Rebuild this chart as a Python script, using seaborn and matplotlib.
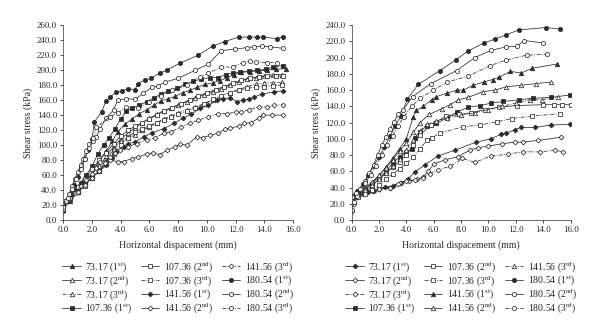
import matplotlib
matplotlib.use("Agg")
import matplotlib.pyplot as plt
import seaborn as sns
from matplotlib.ticker import MultipleLocator, FormatStrFormatter

# ---------------- Panel (a): displacement (mm) / shear stress (kPa) ----------------
a_73_1_x = [0, 0.5, 1.0, 1.5, 2.0, 2.5, 3.0, 3.4, 3.8, 4.3, 4.8, 5.3, 5.8, 6.3, 6.8, 7.3, 7.8, 8.3, 8.8, 9.3, 9.9, 10.4, 10.9, 11.4, 11.9, 12.4, 13.0, 13.6, 14.2, 14.8, 15.5]
a_73_1_y = [15, 25, 38, 50, 62, 80, 92, 105, 118, 128, 135, 142, 147, 153, 159, 162, 165, 170, 173, 177, 181, 183, 186, 190, 194, 197, 198, 199, 200, 201, 202]
a_73_2_x = [0, 0.5, 1.0, 1.5, 2.0, 2.5, 3.0, 3.5, 4.0, 4.5, 5.0, 5.5, 6.0, 6.5, 7.0, 7.5, 8.0, 8.6, 9.2, 9.8, 10.4, 11.0, 11.6, 12.2, 12.8, 13.4, 14.0, 14.6, 15.2]
a_73_2_y = [20, 30, 40, 52, 62, 72, 85, 98, 108, 116, 123, 130, 136, 141, 146, 150, 154, 158, 163, 167, 171, 175, 180, 184, 188, 190, 192, 194, 194]
a_73_3_x = [0, 0.5, 1.0, 1.5, 2.0, 2.5, 3.0, 3.5, 4.0, 4.5, 5.0, 5.5, 6.0, 6.5, 7.0, 7.5, 8.0, 8.6, 9.2, 9.8, 10.4, 11.0, 11.6, 12.2, 12.8, 13.4, 14.0, 14.6, 15.2]
a_73_3_y = [22, 30, 38, 47, 56, 66, 80, 95, 105, 110, 113, 120, 124, 130, 135, 139, 143, 147, 151, 155, 160, 165, 170, 174, 178, 181, 183, 183, 184]
a_107_1_x = [0, 0.4, 0.8, 1.2, 1.6, 2.0, 2.4, 2.8, 3.2, 3.6, 4.0, 4.4, 4.8, 5.3, 5.8, 6.3, 6.8, 7.3, 7.9, 8.5, 9.0, 9.6, 10.2, 10.8, 11.3, 11.8, 12.3, 12.9, 13.5, 14.1, 14.6, 15.3]
a_107_1_y = [20, 30, 40, 50, 60, 72, 88, 100, 110, 122, 135, 145, 150, 153, 158, 163, 168, 172, 176, 181, 185, 188, 190, 190, 194, 196, 197, 199, 200, 201, 204, 206]
a_107_2_x = [0, 0.5, 1.0, 1.5, 2.0, 2.5, 3.0, 3.5, 4.0, 4.5, 5.0, 5.5, 6.0, 6.5, 7.0, 7.6, 8.2, 8.8, 9.4, 10.0, 10.6, 11.2, 11.8, 12.4, 13.0, 13.6, 14.2, 14.8, 15.3]
a_107_2_y = [25, 34, 44, 55, 68, 80, 90, 102, 112, 120, 125, 130, 135, 140, 145, 149, 155, 160, 165, 170, 174, 178, 183, 187, 189, 191, 192, 192, 192]
a_107_3_x = [0, 0.5, 1.0, 1.5, 2.0, 2.5, 3.0, 3.5, 4.0, 4.5, 5.0, 5.5, 6.0, 6.5, 7.0, 7.5, 8.0, 8.6, 9.2, 9.8, 10.4, 11.0, 11.6, 12.2, 12.8, 13.4, 14.0, 14.6, 15.2]
a_107_3_y = [20, 28, 37, 46, 56, 65, 75, 88, 100, 110, 118, 122, 126, 130, 133, 137, 141, 145, 150, 155, 161, 166, 170, 173, 176, 177, 178, 179, 180]
a_141_1_x = [0, 0.5, 1.0, 1.5, 2.0, 2.5, 3.0, 3.4, 3.7, 4.2, 4.5, 5.0, 5.6, 6.15, 7.0, 7.7, 8.35, 8.9, 9.5, 10.1, 10.7, 11.1, 11.6, 12.1, 12.5, 12.9, 13.3, 13.8, 14.7, 15.3]
a_141_1_y = [20, 28, 38, 48, 58, 65, 73, 83, 91, 98, 102, 104, 111, 116, 122, 129, 136, 141, 149, 153, 160, 161, 163, 158, 160, 161, 164, 168, 171, 172]
a_141_2_x = [0, 0.4, 0.8, 1.2, 1.6, 2.0, 2.3, 2.55, 3.25, 3.8, 4.2, 4.75, 5.2, 5.8, 6.26, 6.7, 7.2, 7.8, 8.1, 8.6, 9.3, 9.75, 10.2, 10.8, 11.25, 11.6, 12.2, 12.6, 13.1, 13.6, 13.9, 14.5, 15.3]
a_141_2_y = [18, 27, 36, 45, 53, 62, 70, 78, 80, 78, 78, 82, 84, 88, 90, 87, 93, 98, 101, 100, 111, 110, 113, 116, 121, 123, 125, 129, 130, 136, 140, 140, 140]
a_141_3_x = [0, 0.5, 1.0, 1.5, 2.0, 2.5, 2.9, 3.25, 3.6, 3.95, 4.5, 5.1, 5.8, 6.4, 7.0, 7.5, 8.2, 8.8, 9.4, 10.1, 10.8, 11.4, 12.0, 12.4, 12.9, 13.6, 14.15, 14.7, 15.3]
a_141_3_y = [22, 30, 38, 47, 56, 66, 76, 84, 89, 93, 98, 102, 107, 110, 116, 118, 124, 129, 133, 138, 142, 142, 144, 144, 147, 151, 151, 153, 154]
a_180_1_x = [0, 0.25, 0.5, 0.75, 1.0, 1.25, 1.5, 1.75, 2.0, 2.16, 2.67, 2.97, 3.25, 3.7, 4.06, 4.5, 4.99, 5.2, 5.7, 6.1, 6.7, 7.2, 8.1, 9.4, 10.4, 11.25, 12.2, 12.9, 13.5, 13.9, 14.85, 15.3]
a_180_1_y = [12, 25, 35, 47, 58, 70, 82, 94, 108, 131, 144, 159, 164, 171, 172, 175, 174, 182, 187, 189, 196, 200, 209, 220, 232, 238, 244, 244, 244, 244, 242, 244]
a_180_2_x = [0, 0.2, 0.4, 0.6, 0.8, 1.0, 1.2, 1.4, 1.6, 1.8, 2.1, 2.3, 2.55, 3.0, 3.5, 3.8, 4.4, 5.0, 5.57, 6.15, 6.6, 7.08, 8.0, 9.2, 10.1, 11.0, 11.95, 12.8, 13.3, 13.8, 14.4, 15.3]
a_180_2_y = [15, 25, 35, 45, 55, 64, 73, 82, 92, 102, 106, 111, 122, 136, 147, 160, 162, 161, 169, 177, 179, 184, 189, 200, 208, 226, 228, 230, 231, 232, 231, 229]
a_180_3_x = [0, 0.3, 0.6, 0.9, 1.2, 1.5, 1.8, 2.1, 2.3, 3.25, 3.8, 4.4, 5.2, 6.0, 6.8, 7.6, 8.6, 9.5, 10.1, 11.0, 11.8, 12.5, 13.0, 13.45, 14.15, 14.85]
a_180_3_y = [18, 30, 42, 55, 68, 82, 96, 110, 124, 138, 143, 151, 149, 158, 166, 173, 180, 191, 196, 204, 204, 210, 212, 211, 210, 210]

# ---------------- Panel (b) ----------------
b_73_1_x = [0, 0.4, 0.8, 1.2, 1.6, 2.0, 2.43, 3.0, 3.6, 4.1, 4.6, 5.35, 6.33, 7.55, 9.1, 10.2, 10.95, 11.3, 11.93, 12.37, 13.4, 14.6, 15.95]
b_73_1_y = [25, 29, 32, 34, 36, 38, 41, 42, 46, 50, 59, 68, 79, 86, 96, 100, 106, 107, 111, 114, 114, 117, 118]
b_73_2_x = [0, 0.15, 0.3, 0.6, 1.0, 1.5, 2.0, 2.8, 3.5, 4.2, 4.8, 5.2, 5.6, 6.0, 6.8, 7.76, 8.64, 9.2, 9.96, 10.98, 11.93, 12.5, 13.6, 15.3]
b_73_2_y = [11, 20, 28, 33, 35, 37, 38, 40, 46, 48, 50, 53, 60, 69, 74, 78, 86, 89, 91, 94, 96, 96, 98, 102]
b_73_3_x = [0, 0.5, 1.0, 1.5, 2.0, 2.8, 3.4, 4.0, 4.6, 5.2, 5.7, 6.3, 7.2, 8.1, 9.0, 10.2, 11.4, 12.5, 13.75, 14.85, 15.45]
b_73_3_y = [28, 31, 34, 36, 38, 40, 44, 48, 49, 52, 57, 62, 66, 76, 71, 79, 81, 84, 84, 86, 84]
b_107_1_x = [0, 0.5, 1.0, 1.5, 2.0, 2.5, 3.0, 3.5, 4.0, 4.4, 4.6, 5.0, 5.5, 6.2, 7.0, 7.7, 8.5, 9.4, 10.2, 11.07, 12.2, 13.27, 14.6, 15.95]
b_107_1_y = [30, 33, 38, 45, 52, 60, 70, 78, 84, 87, 101, 109, 116, 119, 126, 133, 139, 141, 144, 146, 148, 150, 151, 154]
b_107_2_x = [0, 0.5, 1.0, 1.5, 2.0, 2.5, 3.0, 3.5, 4.0, 4.5, 5.0, 5.8, 6.9, 7.87, 8.7, 9.74, 10.8, 12.1, 14.0, 14.8, 15.4, 16.0]
b_107_2_y = [25, 30, 35, 42, 50, 58, 65, 72, 80, 92, 105, 117, 128, 130, 132, 136, 139, 141, 142, 142, 142, 142]
b_107_3_x = [0, 0.5, 1.0, 1.5, 2.0, 2.5, 3.0, 3.5, 4.0, 4.5, 5.0, 5.5, 5.85, 6.45, 8.16, 9.4, 10.6, 11.7, 13.2, 15.2]
b_107_3_y = [25, 28, 32, 37, 43, 50, 57, 63, 70, 78, 88, 98, 101, 107, 115, 117, 121, 125, 128, 131]
b_141_1_x = [0, 0.5, 1.0, 1.5, 2.0, 2.5, 3.0, 3.5, 4.0, 4.5, 4.74, 5.24, 5.84, 6.2, 6.94, 7.67, 8.16, 8.9, 9.67, 10.3, 10.8, 11.6, 12.4, 13.2, 15.0]
b_141_1_y = [28, 33, 38, 46, 55, 65, 76, 88, 100, 127, 135, 140, 148, 152, 156, 160, 160, 166, 170, 173, 176, 183, 181, 187, 192]
b_141_2_x = [0, 0.5, 1.0, 1.5, 2.0, 2.5, 3.0, 3.5, 4.0, 4.5, 5.0, 5.67, 6.57, 7.2, 7.8, 8.5, 9.6, 10.47, 11.3, 12.4, 13.5, 14.6]
b_141_2_y = [30, 34, 40, 47, 55, 64, 74, 85, 95, 108, 120, 130, 137, 142, 148, 151, 158, 160, 164, 166, 168, 170]
b_141_3_x = [0, 0.5, 1.0, 1.5, 2.0, 2.5, 3.0, 3.5, 4.0, 4.5, 5.0, 5.5, 6.2, 7.0, 8.0, 9.0, 10.0, 11.0, 12.0, 13.0, 13.9, 15.1]
b_141_3_y = [28, 32, 37, 43, 50, 58, 66, 75, 86, 98, 110, 118, 122, 126, 129, 132, 136, 140, 144, 148, 148, 152]
b_180_1_x = [0, 0.4, 0.8, 1.2, 1.6, 2.0, 2.4, 2.8, 3.2, 3.6, 4.07, 4.87, 6.45, 7.6, 8.5, 9.67, 10.5, 11.3, 12.2, 14.2, 15.25]
b_180_1_y = [30, 36, 44, 55, 66, 78, 90, 103, 116, 128, 149, 167, 184, 197, 208, 218, 223, 228, 234, 237, 235]
b_180_2_x = [0, 0.2, 0.4, 0.7, 1.0, 1.3, 1.6, 1.9, 2.2, 2.5, 2.8, 3.1, 3.4, 3.77, 4.46, 5.8, 7.67, 9.0, 10.2, 11.25, 12.1, 12.6, 14.0]
b_180_2_y = [12, 22, 30, 38, 48, 58, 68, 80, 92, 102, 112, 121, 130, 136, 152, 168, 184, 200, 209, 213, 214, 221, 218]
b_180_3_x = [0, 0.3, 0.6, 1.0, 1.4, 1.8, 2.2, 2.6, 3.0, 3.4, 3.8, 4.4, 5.0, 5.97, 7.0, 8.5, 10.1, 11.3, 12.8, 14.25]
b_180_3_y = [28, 33, 38, 46, 56, 67, 80, 92, 104, 116, 127, 140, 150, 160, 170, 177, 190, 197, 203, 204]

# Legend labels (normal stress in kPa, test repetition)
labels = [
    "73.17 (1$^{\\mathrm{st}}$)", "73.17 (2$^{\\mathrm{nd}}$)", "73.17 (3$^{\\mathrm{rd}}$)",
    "107.36 (1$^{\\mathrm{st}}$)", "107.36 (2$^{\\mathrm{nd}}$)", "107.36 (3$^{\\mathrm{rd}}$)",
    "141.56 (1$^{\\mathrm{st}}$)", "141.56 (2$^{\\mathrm{nd}}$)", "141.56 (3$^{\\mathrm{rd}}$)",
    "180.54 (1$^{\\mathrm{st}}$)", "180.54 (2$^{\\mathrm{nd}}$)", "180.54 (3$^{\\mathrm{rd}}$)",
]

panel_a = [
    (a_73_1_x, a_73_1_y), (a_73_2_x, a_73_2_y), (a_73_3_x, a_73_3_y),
    (a_107_1_x, a_107_1_y), (a_107_2_x, a_107_2_y), (a_107_3_x, a_107_3_y),
    (a_141_1_x, a_141_1_y), (a_141_2_x, a_141_2_y), (a_141_3_x, a_141_3_y),
    (a_180_1_x, a_180_1_y), (a_180_2_x, a_180_2_y), (a_180_3_x, a_180_3_y),
]
panel_b = [
    (b_73_1_x, b_73_1_y), (b_73_2_x, b_73_2_y), (b_73_3_x, b_73_3_y),
    (b_107_1_x, b_107_1_y), (b_107_2_x, b_107_2_y), (b_107_3_x, b_107_3_y),
    (b_141_1_x, b_141_1_y), (b_141_2_x, b_141_2_y), (b_141_3_x, b_141_3_y),
    (b_180_1_x, b_180_1_y), (b_180_2_x, b_180_2_y), (b_180_3_x, b_180_3_y),
]

# marker shape per normal-stress level, for each panel
markers_a = ["^", "s", "D", "o"]
markers_b = ["D", "s", "^", "o"]

sns.set_style("ticks")
plt.rcParams["font.family"] = ["Liberation Serif", "DejaVu Serif"]
plt.rcParams["mathtext.fontset"] = "custom"
plt.rcParams["mathtext.rm"] = "Liberation Serif"
plt.rcParams["mathtext.it"] = "Liberation Serif:italic"

INK = "#2b2b2b"
DASHDOT = (0, (5, 1.8, 1.2, 1.8))

fig = plt.figure(figsize=(6.0, 3.3), dpi=100)
ax_a = fig.add_axes([0.1055, 0.333, 0.383, 0.591])
ax_b = fig.add_axes([0.586, 0.333, 0.365, 0.591])


def draw_panel(ax, series, marks, ymax):
    for i, ((xs, ys), lab) in enumerate(zip(series, labels)):
        level, rep = divmod(i, 3)
        mk = marks[level]
        size = {"o": 3.0, "s": 2.8, "^": 3.2, "D": 2.5}[mk]
        sns.lineplot(
            x=xs, y=ys, ax=ax, sort=False, estimator=None,
            color=INK, linewidth=0.55,
            linestyle="-" if rep < 2 else DASHDOT,
            marker=mk, markersize=size, markeredgewidth=0.55,
            markeredgecolor=INK,
            markerfacecolor=INK if rep == 0 else "white",
            label=lab, legend=False,
        )
    ax.set_xlim(0, 16)
    ax.set_ylim(0, ymax)
    ax.xaxis.set_major_locator(MultipleLocator(2))
    ax.yaxis.set_major_locator(MultipleLocator(20))
    ax.xaxis.set_major_formatter(FormatStrFormatter("%.1f"))
    ax.yaxis.set_major_formatter(FormatStrFormatter("%.1f"))
    ax.tick_params(labelsize=6.5, length=2.5, width=0.6, pad=2, colors=INK)
    for side in ("top", "right"):
        ax.spines[side].set_visible(False)
    for side in ("left", "bottom"):
        ax.spines[side].set_linewidth(0.6)
        ax.spines[side].set_color("#555555")
    ax.set_xlabel("Horizontal dispacement (mm)", fontsize=7, color=INK, labelpad=4)
    ax.set_ylabel("Shear stress (kPa)", fontsize=7, color=INK, labelpad=3)
    handles, labs = ax.get_legend_handles_labels()
    ax.legend(handles, labs, ncol=3, loc="upper center",
              bbox_to_anchor=(0.5, -0.185), frameon=False,
              fontsize=7, handlelength=1.9, handletextpad=0.45,
              columnspacing=0.9, labelspacing=0.0, borderaxespad=0)


draw_panel(ax_a, panel_a, markers_a, 260)
draw_panel(ax_b, panel_b, markers_b, 240)

fig.savefig("out.png", dpi=100, facecolor="white")
